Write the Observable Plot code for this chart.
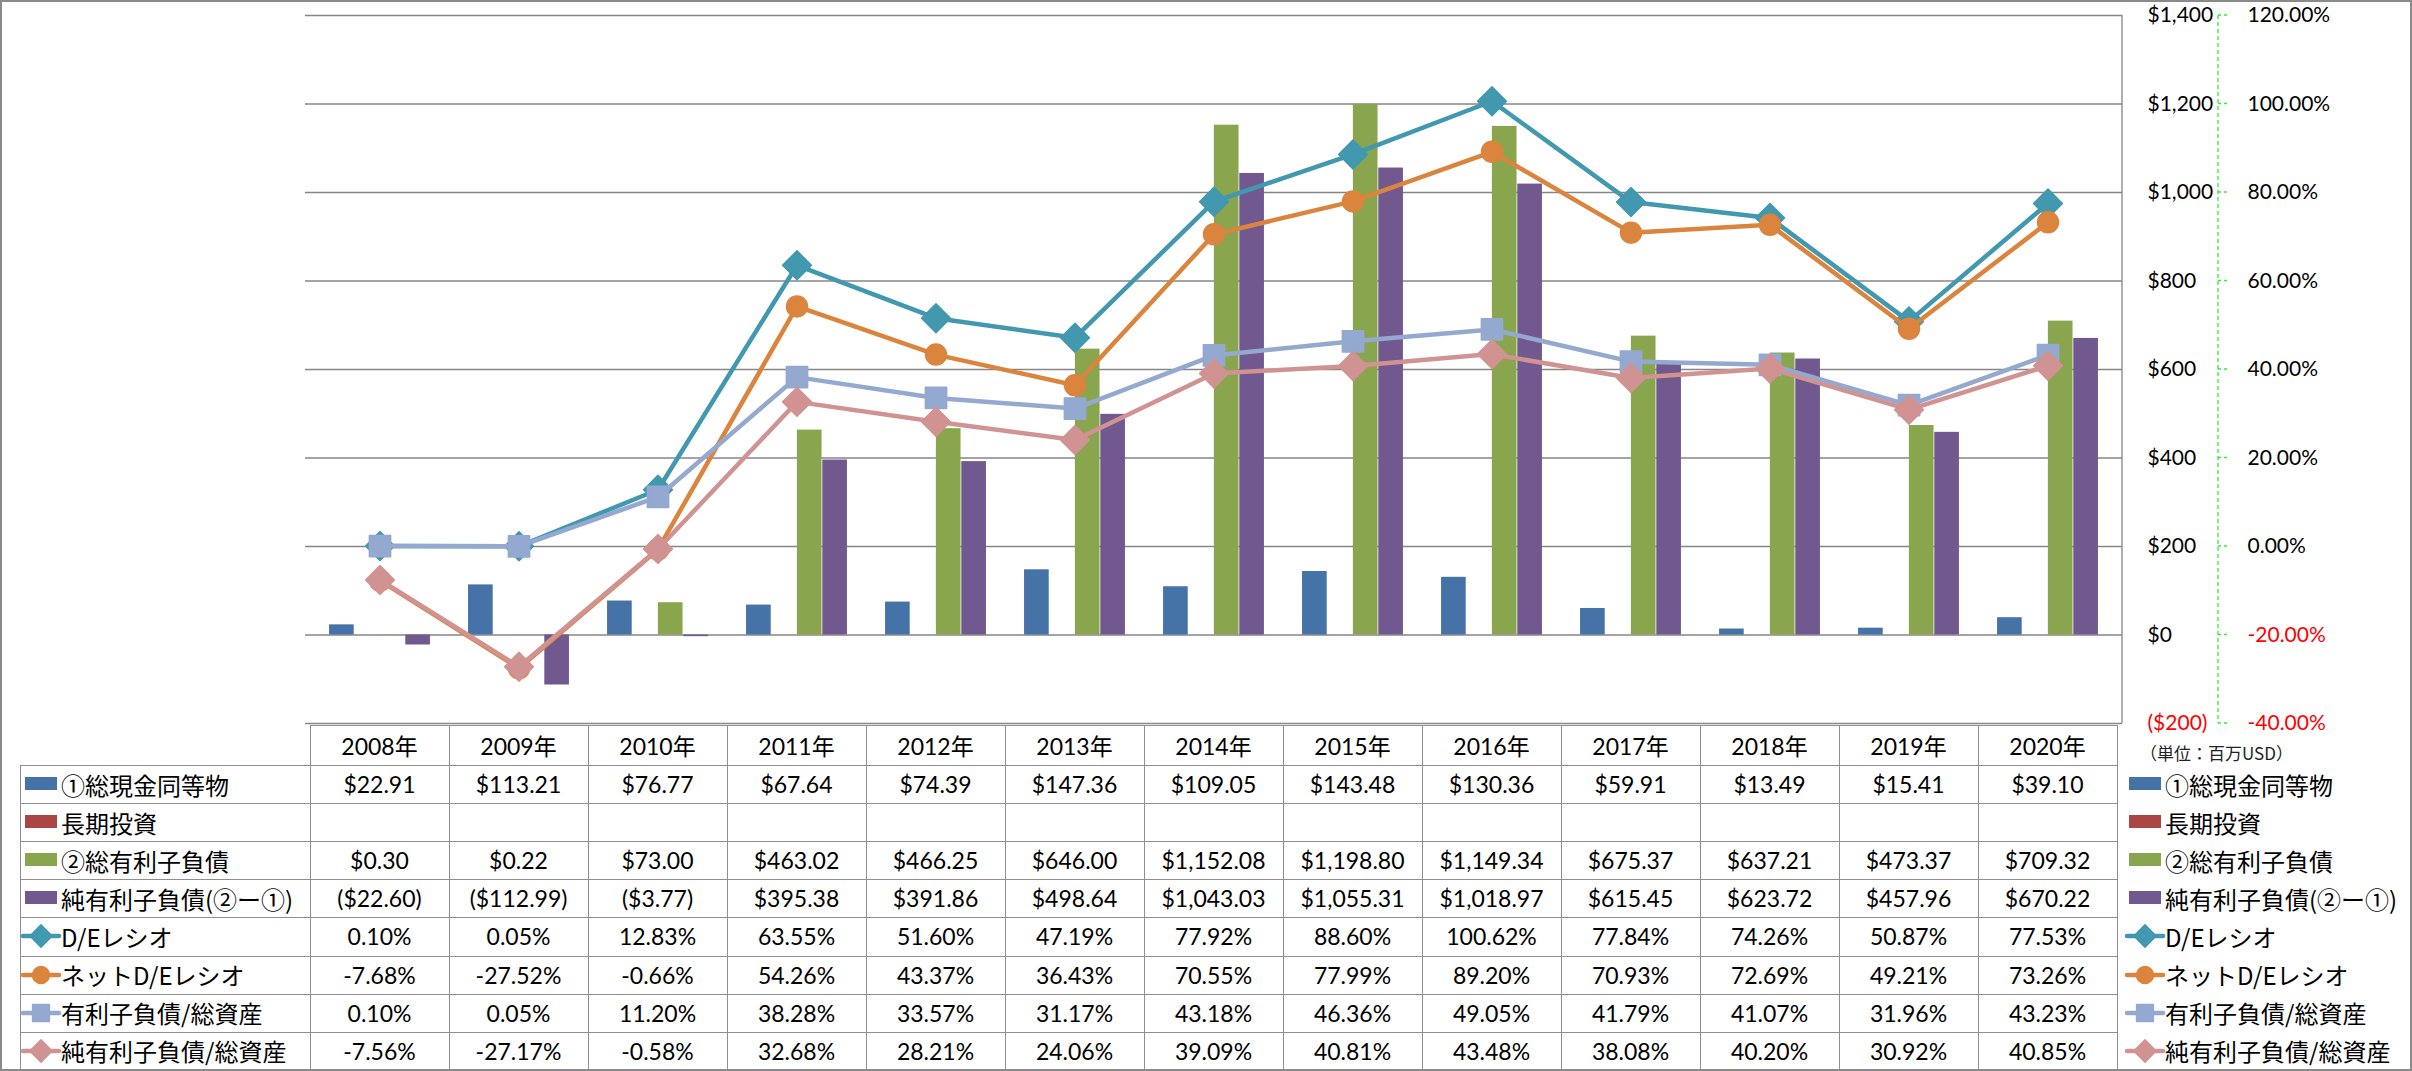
<!DOCTYPE html>
<html>
<head>
<meta charset="utf-8">
<script src="https://cdn.jsdelivr.net/npm/d3@7"></script>
<script src="https://cdn.jsdelivr.net/npm/@observablehq/plot@0.6"></script>
<style>
html, body { margin: 0; padding: 0; background: #fff; overflow: hidden; }
#wrap { position: relative; width: 2412px; height: 1071px; overflow: hidden; background: #fff; }
#wrap svg.chart { position: absolute; left: 0; top: 0; overflow: visible; }
#frame { position: absolute; left: 0; top: 0; width: 2412px; height: 1071px; box-sizing: border-box; border: 2px solid #8a8a8a; pointer-events: none; }
.cell { position: absolute; display: flex; align-items: center; justify-content: center; font-family: Lato, "Noto Sans CJK JP", sans-serif; font-size: 23px; color: #000; white-space: nowrap; }
.lab { position: absolute; display: flex; align-items: center; font-family: "Noto Sans CJK JP", sans-serif; font-size: 24px; color: #000; white-space: nowrap; }
.hl { position: absolute; height: 0; border-top: 1.5px solid #8f8f8f; }
.vl { position: absolute; width: 0; border-left: 1.5px solid #8f8f8f; }
.sym { position: absolute; overflow: visible; }
#unit { position: absolute; font-family: "Noto Sans CJK JP", sans-serif; font-size: 17px; color: #222; white-space: nowrap; }
</style>
</head>
<body>
<div id="wrap"><div id="frame"></div></div>
<script>
// ---------- data ----------
const years = ["2008年","2009年","2010年","2011年","2012年","2013年","2014年","2015年","2016年","2017年","2018年","2019年","2020年"];
const cashEq = [22.91, 113.21, 76.77, 67.64, 74.39, 147.36, 109.05, 143.48, 130.36, 59.91, 13.49, 15.41, 39.10];
const longTermInv = [null, null, null, null, null, null, null, null, null, null, null, null, null];
const totalDebt = [0.30, 0.22, 73.00, 463.02, 466.25, 646.00, 1152.08, 1198.80, 1149.34, 675.37, 637.21, 473.37, 709.32];
const netDebt = [-22.60, -112.99, -3.77, 395.38, 391.86, 498.64, 1043.03, 1055.31, 1018.97, 615.45, 623.72, 457.96, 670.22];
const deRatio = [0.10, 0.05, 12.83, 63.55, 51.60, 47.19, 77.92, 88.60, 100.62, 77.84, 74.26, 50.87, 77.53];
const netDeRatio = [-7.68, -27.52, -0.66, 54.26, 43.37, 36.43, 70.55, 77.99, 89.20, 70.93, 72.69, 49.21, 73.26];
const debtToAssets = [0.10, 0.05, 11.20, 38.28, 33.57, 31.17, 43.18, 46.36, 49.05, 41.79, 41.07, 31.96, 43.23];
const netDebtToAssets = [-7.56, -27.17, -0.58, 32.68, 28.21, 24.06, 39.09, 40.81, 43.48, 38.08, 40.20, 30.92, 40.85];
const usdTicks = [-200, 0, 200, 400, 600, 800, 1000, 1200, 1400];
const pctTicks = [-40, -20, 0, 20, 40, 60, 80, 100, 120];
const seriesNames = ["①総現金同等物", "長期投資", "②総有利子負債", "純有利子負債(②ー①)", "D/Eレシオ", "ネットD/Eレシオ", "有利子負債/総資産", "純有利子負債/総資産"];
const unitNote = "（単位：百万USD）";

// ---------- styles ----------
const barColors = ["#4572A7", "#AA4643", "#89A54E", "#71588F"];
const lineColors = ["#4198AF", "#DB843D", "#93A9CF", "#D19392"];
const lineSymbols = ["diamond2", "circle", "square", "diamond2"];
const lineR = [13, 10.5, 12, 13];

// secondary axis mapping: -40% ↔ ($200), 120% ↔ $1,400
const pctToUsd = p => 200 + 10 * p;
const usdToPct = v => (v - 200) / 10;

const W = 2412, H = 760, ML = 305, MR = 290, MT = 15, MB = 37;
const nBands = years.length;
const bw = (W - ML - MR) / nBands;
const barW = bw / 5.5; // gap width 150%
const insetFor = i => ({insetLeft: barW * (0.75 + i), insetRight: bw - barW * (1.75 + i)});

const barSeries = [cashEq, longTermInv, totalDebt, netDebt];
const lineSeries = [deRatio, netDeRatio, debtToAssets, netDebtToAssets];

const marks = [
  Plot.gridY({ticks: usdTicks, stroke: "#868686", strokeOpacity: 1, strokeWidth: 1.3})
];
barSeries.forEach((vals, i) => {
  const d = years.map((y, j) => ({year: y, v: vals[j]})).filter(r => r.v != null);
  marks.push(Plot.barY(d, {x: "year", y1: 0, y2: "v", fill: barColors[i], ...insetFor(i)}));
});
lineSeries.forEach((vals, i) => {
  const d = years.map((y, j) => ({year: y, v: pctToUsd(vals[j])}));
  marks.push(Plot.line(d, {x: "year", y: "v", stroke: lineColors[i], strokeWidth: 4.5, strokeLinejoin: "round"}));
  marks.push(Plot.dot(d, {x: "year", y: "v", symbol: lineSymbols[i], r: lineR[i], fill: lineColors[i], stroke: lineColors[i], strokeWidth: 1.5, strokeLinejoin: "round"}));
});
// right-hand axes
const fmtAxisUsd = v => v < 0 ? "($" + d3.format(",")(-v) + ")" : "$" + d3.format(",")(v);
const fmtAxisPct = v => usdToPct(v).toFixed(2) + "%";
const axisCommon = {anchor: "right", tickSize: 0, label: null, fontSize: 21, fontFamily: "Lato", textAnchor: "start"};
marks.push(Plot.axisY({...axisCommon, ticks: usdTicks.filter(v => v >= 0), tickPadding: 25, tickFormat: fmtAxisUsd, fill: "#000"}));
marks.push(Plot.axisY({...axisCommon, ticks: usdTicks.filter(v => v < 0), tickPadding: 25, tickFormat: fmtAxisUsd, fill: "#ff0000"}));
marks.push(Plot.axisY({...axisCommon, ticks: pctTicks.filter(p => p >= 0).map(pctToUsd), tickPadding: 125, tickFormat: fmtAxisPct, fill: "#000"}));
marks.push(Plot.axisY({...axisCommon, ticks: pctTicks.filter(p => p < 0).map(pctToUsd), tickPadding: 125, tickFormat: fmtAxisPct, fill: "#ff0000"}));

const plot = Plot.plot({
  width: W, height: H,
  marginLeft: ML, marginRight: MR, marginTop: MT, marginBottom: MB,
  x: {type: "band", domain: years, padding: 0, axis: null},
  y: {domain: [-200, 1400], axis: null},
  style: {fontFamily: "Lato", fontSize: "21px", background: "transparent", overflow: "visible"},
  marks
});
plot.classList.add("chart");
const wrap = document.getElementById("wrap");
wrap.insertBefore(plot, document.getElementById("frame"));

const ys = plot.scale("y");
const xs = plot.scale("x");
const svg = d3.select(plot);

// plot-area right border (primary axis line)
svg.append("line")
  .attr("x1", W - MR).attr("x2", W - MR)
  .attr("y1", ys.apply(1400)).attr("y2", ys.apply(-200))
  .attr("stroke", "#868686").attr("stroke-width", 1.3);

// secondary axis: green dashed line with ticks
const gx = 2218;
svg.append("line")
  .attr("x1", gx).attr("x2", gx)
  .attr("y1", ys.apply(pctToUsd(120))).attr("y2", ys.apply(pctToUsd(-40)))
  .attr("stroke", "#33ee33").attr("stroke-width", 1.3).attr("stroke-dasharray", "4,3");
pctTicks.forEach(p => {
  svg.append("line")
    .attr("x1", gx).attr("x2", gx + 10)
    .attr("y1", ys.apply(pctToUsd(p))).attr("y2", ys.apply(pctToUsd(p)))
    .attr("stroke", "#33ee33").attr("stroke-width", 1.3).attr("stroke-dasharray", "3,3");
});

// ---------- data table ----------
const fmtUsd = v => v == null ? "" : (v < 0 ? "($" + d3.format(",.2f")(-v) + ")" : "$" + d3.format(",.2f")(v));
const fmtPct = v => v == null ? "" : v.toFixed(2) + "%";
const tableRows = [
  {values: cashEq, fmt: fmtUsd, kind: "bar", idx: 0},
  {values: longTermInv, fmt: fmtUsd, kind: "bar", idx: 1},
  {values: totalDebt, fmt: fmtUsd, kind: "bar", idx: 2},
  {values: netDebt, fmt: fmtUsd, kind: "bar", idx: 3},
  {values: deRatio, fmt: fmtPct, kind: "line", idx: 0},
  {values: netDeRatio, fmt: fmtPct, kind: "line", idx: 1},
  {values: debtToAssets, fmt: fmtPct, kind: "line", idx: 2},
  {values: netDebtToAssets, fmt: fmtPct, kind: "line", idx: 3}
];
const headTop = 725, headH = 40, rowH = 38.1, tableLeft = 20;
const x0 = xs.apply(years[0]);
const xEnd = xs.apply(years[nBands - 1]) + xs.bandwidth;
const bodyTop = headTop + headH;
const bottom = bodyTop + rowH * tableRows.length;

function add(cls, style, text) {
  const el = document.createElement("div");
  el.className = cls;
  Object.assign(el.style, style);
  if (text != null) el.textContent = text;
  wrap.insertBefore(el, document.getElementById("frame"));
  return el;
}
// horizontal lines
add("hl", {left: x0 + "px", top: headTop + "px", width: (xEnd - x0) + "px"});
for (let r = 0; r <= tableRows.length; r++) {
  add("hl", {left: tableLeft + "px", top: (bodyTop + r * rowH) + "px", width: (xEnd - tableLeft) + "px"});
}
// vertical lines
add("vl", {left: tableLeft + "px", top: bodyTop + "px", height: (bottom - bodyTop) + "px"});
for (let j = 0; j <= nBands; j++) {
  add("vl", {left: (x0 + j * xs.bandwidth) + "px", top: headTop + "px", height: (bottom - headTop) + "px"});
}
// header
years.forEach(y => {
  add("cell", {left: xs.apply(y) + "px", top: headTop + "px", width: xs.bandwidth + "px", height: headH + "px"}, y);
});
// legend symbol drawer
function drawSym(left, cy, row) {
  const s = d3.create("svg").attr("class", "sym").attr("width", 40).attr("height", 30)
    .style("left", left + "px").style("top", (cy - 15) + "px");
  if (row.kind === "bar") {
    s.append("rect").attr("x", 4).attr("y", 8).attr("width", 32).attr("height", 13).attr("fill", barColors[row.idx]);
  } else {
    const c = lineColors[row.idx];
    s.append("line").attr("x1", 2).attr("x2", 38).attr("y1", 15).attr("y2", 15).attr("stroke", c).attr("stroke-width", 4.5).attr("stroke-linecap", "round");
    const symMap = {diamond2: d3.symbolDiamond2, circle: d3.symbolCircle, square: d3.symbolSquare};
    const rr = [10, 8.5, 9.5, 10][row.idx];
    s.append("path").attr("d", d3.symbol(symMap[lineSymbols[row.idx]], Math.PI * rr * rr)())
      .attr("transform", "translate(20,15)").attr("fill", c).attr("stroke", c).attr("stroke-width", 1.5).attr("stroke-linejoin", "round");
  }
  wrap.insertBefore(s.node(), document.getElementById("frame"));
}
tableRows.forEach((row, r) => {
  const top = bodyTop + r * rowH;
  const cy = top + rowH / 2;
  // first column legend + label
  drawSym(tableLeft + 1, cy, row);
  add("lab", {left: (tableLeft + 41) + "px", top: top + "px", height: rowH + "px"}, seriesNames[r]);
  // right legend
  drawSym(2125, cy, row);
  add("lab", {left: "2165px", top: top + "px", height: rowH + "px"}, seriesNames[r]);
  // values
  years.forEach((y, j) => {
    add("cell", {left: xs.apply(y) + "px", top: top + "px", width: xs.bandwidth + "px", height: rowH + "px"}, row.fmt(row.values[j]));
  });
});
add("", {position: "absolute", left: "2140px", top: "740px"}, unitNote).id = "unit";
</script>
</body>
</html>
